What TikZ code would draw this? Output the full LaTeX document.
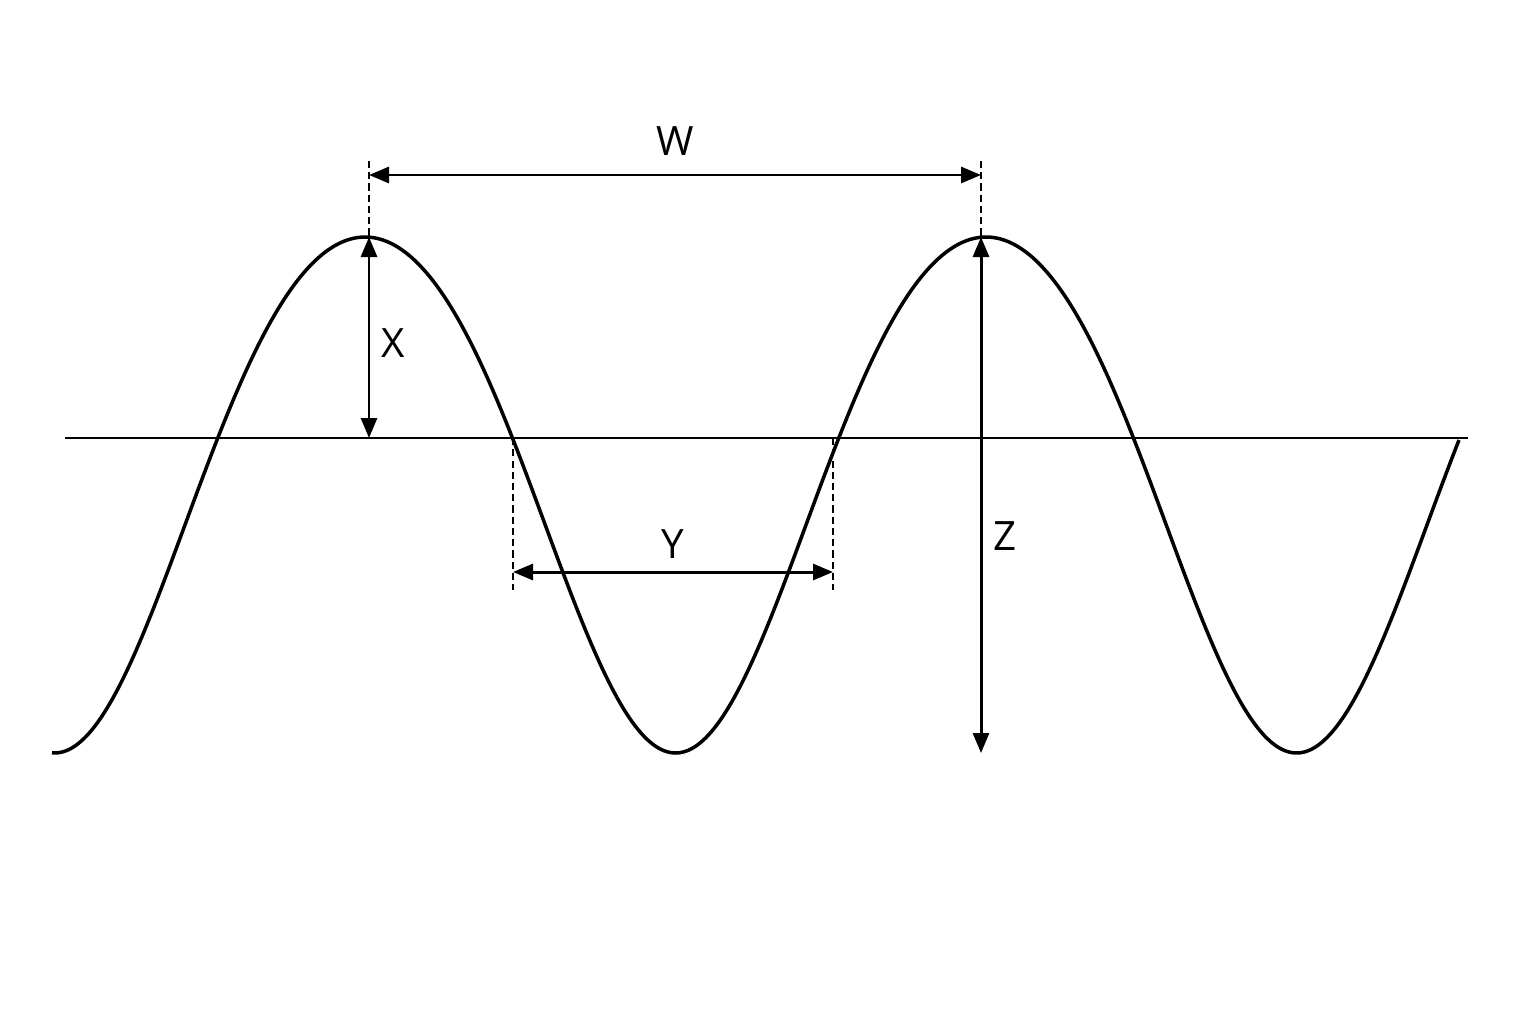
\documentclass[tikz,border=0pt]{standalone}
\usepackage{fontspec}
\setmainfont{Open Sans}
\usepackage{tikz}
\usetikzlibrary{arrows.meta,calc}
\tikzset{
  waveLine/.style={
    line width=1pt,
    line join=round
  },
  axisLine/.style={
    line width=0.75pt
  },
  dimArrow/.style={
    {Triangle[length=2mm,width=1.6mm]}-{Triangle[length=2mm,width=1.6mm]},
    line width=0.85pt
  },
  guideLine/.style={
    dash pattern=on 2pt off 1.2pt,
    line width=0.7pt
  },
  dimLabel/.style={
    font=\fontsize{11.5}{14}\selectfont,
    inner sep=3pt
  },
  declare function={
    wavePhase(\x)=(\x-3.651)*180/3.105;
    waveHeight(\x)=-0.387+2.58*cos(wavePhase(\x))-0.183*cos(2*wavePhase(\x));
  }
}

\begin{document}
\begin{tikzpicture}
        \useasboundingbox (0,-5.86) rectangle (15.36,4.38);

        % reference points
        \coordinate (peakLeft) at (3.69,2.01);
        \coordinate (peakRight) at (9.81,2.01);
        \coordinate (baseLeft) at (3.69,0);
        \coordinate (troughBottom) at (9.81,-3.15);
        \coordinate (crossLeft) at (5.13,0);
        \coordinate (crossRight) at (8.33,0);
        \coordinate (guideTopLeft) at (3.69,2.77);
        \coordinate (guideTopRight) at (9.81,2.77);
        \coordinate (wLeft) at (3.69,2.63);
        \coordinate (wRight) at (9.81,2.63);
        \coordinate (guideLowLeft) at (5.13,-1.52);
        \coordinate (guideLowRight) at (8.33,-1.52);
        \coordinate (yLeft) at (5.13,-1.34);
        \coordinate (yRight) at (8.33,-1.34);
        \coordinate (axisStart) at (0.65,0);
        \coordinate (axisEnd) at (14.68,0);

        % axis and wave
        \draw[axisLine] (axisStart) -- (axisEnd);
        \draw[waveLine] plot[domain=0.52:14.59, samples=240, smooth] (\x,{waveHeight(\x)});

        % guides
        \draw[guideLine] (guideTopLeft) -- (peakLeft);
        \draw[guideLine] (guideTopRight) -- (peakRight);
        \draw[guideLine] (crossLeft) -- (guideLowLeft);
        \draw[guideLine] (crossRight) -- (guideLowRight);

        % dimensions
        \draw[dimArrow] (wLeft) -- node[dimLabel, above=2pt] (wLabel) {W} (wRight);
        \draw[dimArrow] (peakLeft) -- node[dimLabel, pos=0.527, right] (xLabel) {X} (baseLeft);
        \draw[dimArrow] (yLeft) -- node[dimLabel, above=0.4pt] (yLabel) {Y} (yRight);
        \draw[dimArrow] (peakRight) -- node[dimLabel, pos=0.58, right] (zLabel) {Z} (troughBottom);

    \end{tikzpicture}
\end{document}
